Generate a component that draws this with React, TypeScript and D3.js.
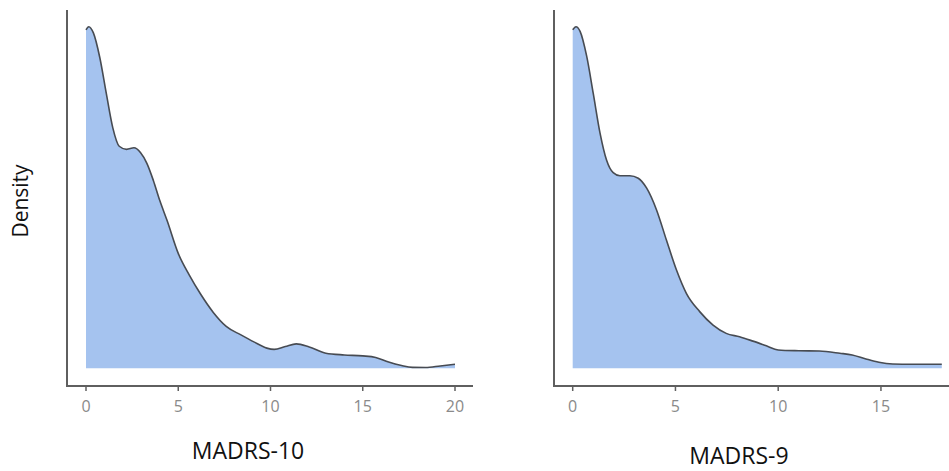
import * as d3 from 'd3';

// MADRS-10 density estimate (score, density)
const madrs10Scores = [
  0, 0.15, 0.4, 0.75, 1.1, 1.45, 1.8, 2.2, 2.6, 2.95, 3.3, 3.65, 4.0, 4.4, 5.0, 5.6, 6.2, 6.9, 7.6, 8.4,
  9.1, 9.8, 10.2, 10.8, 11.4, 12.1, 13.0, 14.0, 15.0, 15.7, 16.4, 17.1, 17.7, 18.4, 19.2, 20,
];
const madrs10Density = [
  0.218, 0.22, 0.216, 0.2, 0.177, 0.155, 0.143, 0.141, 0.142, 0.139, 0.132, 0.121, 0.108, 0.095, 0.074,
  0.06, 0.048, 0.036, 0.027, 0.0215, 0.017, 0.013, 0.0122, 0.014, 0.0157, 0.0137, 0.0097, 0.0086, 0.008,
  0.007, 0.004, 0.0018, 0.0006, 0.0005, 0.0015, 0.0026,
];

// MADRS-9 density estimate
const madrs9Scores = [
  0, 0.16, 0.36, 0.68, 1.0, 1.33, 1.65, 1.97, 2.3, 2.78, 3.19, 3.6, 4.08, 4.56, 5.05, 5.53, 6.18, 6.83,
  7.47, 8.12, 8.77, 9.42, 10.0, 11.0, 12.0, 13.0, 13.6, 14.27, 14.9, 15.57, 16.5, 17.96,
];
const madrs9Density = [
  0.218, 0.22, 0.217, 0.201, 0.177, 0.1515, 0.134, 0.126, 0.124, 0.124, 0.1224, 0.116, 0.102, 0.0826,
  0.0633, 0.0483, 0.0365, 0.0278, 0.0225, 0.0203, 0.0175, 0.0145, 0.0118, 0.0113, 0.0111, 0.0097, 0.0086,
  0.006, 0.0039, 0.0028, 0.0026, 0.0026,
];

const madrs10Ticks = [0, 5, 10, 15, 20];
const madrs9Ticks = [0, 5, 10, 15];

const FONT = '"Open Sans", "Liberation Sans", sans-serif';

type PanelProps = {
  scores: number[];
  density: number[];
  ticks: number[];
  title: string;
  axisX: number; // y-axis line position
  axisRight: number; // end of x-axis line
  x0: number; // pixel for score 0
  pxPerUnit: number;
  xMax: number;
  titleX: number;
  titleY: number;
};

function DensityPanel({ scores, density, ticks, title, axisX, axisRight, x0, pxPerUnit, xMax, titleX, titleY }: PanelProps) {
  const baseline = 368.3;
  const top = 26.7;
  const axisY = 386;

  const x = d3.scaleLinear().domain([0, xMax]).range([x0, x0 + xMax * pxPerUnit]);
  const y = d3.scaleLinear().domain([0, 0.22]).range([baseline, top]);

  const pts = scores.map((s, i) => [s, density[i]] as [number, number]);

  const area = d3
    .area<[number, number]>()
    .x((d) => x(d[0]))
    .y0(baseline)
    .y1((d) => y(d[1]))
    .curve(d3.curveMonotoneX);

  const line = d3
    .line<[number, number]>()
    .x((d) => x(d[0]))
    .y((d) => y(d[1]))
    .curve(d3.curveMonotoneX);

  return (
    <g>
      <path d={area(pts) ?? ''} fill="#a5c3ef" />
      <path d={line(pts) ?? ''} fill="none" stroke="#474b52" strokeWidth={1.6} />

      {/* axes */}
      <line x1={axisX} x2={axisX} y1={10} y2={axisY + 1} stroke="#5f5f5f" strokeWidth={2} />
      <line x1={axisX - 1} x2={axisRight} y1={axisY} y2={axisY} stroke="#5f5f5f" strokeWidth={2} />

      {ticks.map((t) => (
        <g key={t} transform={`translate(${x(t)},0)`}>
          <line y1={axisY} y2={axisY + 5} stroke="#5f5f5f" strokeWidth={1.5} />
          <text y={axisY + 26} textAnchor="middle" fontSize={16} fontFamily={FONT} fill="#8a8a8a">
            {t}
          </text>
        </g>
      ))}

      <text x={titleX} y={titleY} textAnchor="middle" fontSize={23} fontFamily={FONT} fill="#111">
        {title}
      </text>
    </g>
  );
}

export default function App() {
  return (
    <svg
      width={949}
      height={471}
      viewBox="0 0 949 471"
      style={{ position: 'absolute', left: 0, top: 0, background: '#fff' }}
    >
      <rect width={949} height={471} fill="#fff" />
      <text
        transform="translate(28,201) rotate(-90)"
        textAnchor="middle"
        fontSize={21}
        fontFamily={FONT}
        fill="#111"
      >
        Density
      </text>

      <DensityPanel
        scores={madrs10Scores}
        density={madrs10Density}
        ticks={madrs10Ticks}
        title="MADRS-10"
        axisX={67}
        axisRight={473}
        x0={86}
        pxPerUnit={18.45}
        xMax={20}
        titleX={248}
        titleY={459}
      />
      <DensityPanel
        scores={madrs9Scores}
        density={madrs9Density}
        ticks={madrs9Ticks}
        title="MADRS-9"
        axisX={554}
        axisRight={949}
        x0={572.7}
        pxPerUnit={20.55}
        xMax={17.96}
        titleX={739}
        titleY={464}
      />
    </svg>
  );
}
